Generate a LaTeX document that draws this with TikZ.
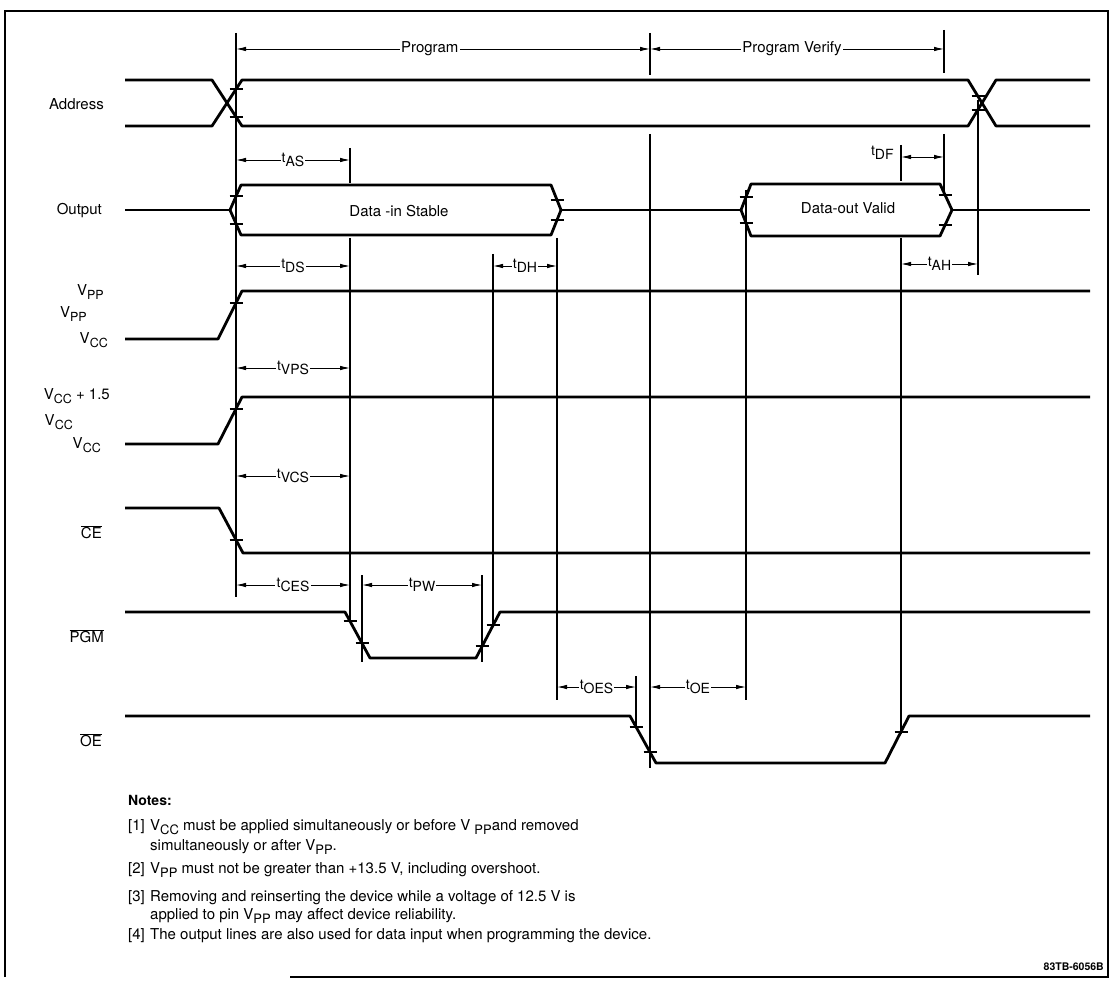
\documentclass[tikz,border=0pt]{standalone}
\usepackage{fontspec}
\setmainfont{TeX Gyre Heros}
\usetikzlibrary{arrows.meta}
\newcommand{\lsub}[1]{\raisebox{-0.45ex}{\fontsize{12.5}{12.5}\selectfont #1}}
\newcommand{\nsub}[1]{\raisebox{-0.45ex}{\fontsize{13}{13}\selectfont #1}}
\newcommand{\tlab}[1]{\raisebox{0.15ex}{t}\raisebox{-0.45ex}{#1}}
\newcommand{\ovl}[1]{$\overline{\mbox{#1}}$}
\newcommand{\tk}[2]{\draw[tickmark] (#1-6.5,#2) -- (#1+6.5,#2);}
\begin{document}
\begin{tikzpicture}[x=1pt,y=-1pt,
  sig/.style={line width=2.8pt, line join=round},
  vline/.style={line width=1.2pt},
  tickmark/.style={line width=1.1pt},
  frameline/.style={line width=1.6pt},
  dim/.style={line width=0.9pt, {Latex[length=10pt,width=4.5pt]}-{Latex[length=10pt,width=4.5pt]}},
  dlab/.style={font=\fontsize{14}{14}\selectfont, fill=white, inner sep=1.2pt},
  lab/.style={font=\fontsize{15}{15}\selectfont, anchor=east, inner sep=0pt},
  note/.style={font=\fontsize{15}{15}\selectfont, anchor=west, inner sep=0pt}]
\useasboundingbox (0,0) rectangle (1115,981);
\fill[white] (0,0) rectangle (1115,981);
% frame
\draw[frameline] (5,977) -- (5,11) -- (1108,11) -- (1108,977) -- (290,977);
% ---- signals ----
% Address
\draw[sig] (125,80) -- (212,80) -- (242,126) -- (968,126) -- (996,80) -- (1090,80);
\draw[sig] (125,126) -- (212,126) -- (242,80) -- (968,80) -- (996,126) -- (1090,126);
\tk{236}{89} \tk{236}{117} \tk{978}{96} \tk{978}{110}
% Output
\draw[sig] (125,210) -- (230,210);
\draw[sig] (230,210) -- (241,185) -- (551,185) -- (561,210) -- (551,235) -- (241,235) -- cycle;
\draw[sig] (561,210) -- (741,210);
\draw[sig] (741,210) -- (751,184) -- (940,184) -- (952,210) -- (940,236) -- (751,236) -- cycle;
\draw[sig] (952,210) -- (1090,210);
\tk{236}{196} \tk{236}{224} \tk{557}{200} \tk{557}{220}
\tk{746}{197} \tk{746}{223} \tk{945}{195} \tk{945}{225}
% VPP
\draw[sig] (125,339) -- (218,339) -- (242,291) -- (1090,291);
\tk{236}{303}
% VCC
\draw[sig] (125,444) -- (218,444) -- (242,397) -- (1090,397);
\tk{236}{409}
% CE
\draw[sig] (125,508) -- (219,508) -- (243,553) -- (1090,553);
\tk{236}{540}
% PGM
\draw[sig] (125,612) -- (345,612) -- (370,658) -- (476,658) -- (500,612) -- (1090,612);
\tk{350}{621} \tk{362}{643} \tk{482}{646} \tk{493}{625}
% OE
\draw[sig] (125,716) -- (630,716) -- (656,763) -- (885,763) -- (909,716) -- (1090,716);
\tk{636}{727} \tk{650}{752} \tk{901}{732}
% ---- vertical timing lines ----
\draw[vline] (236,33) -- (236,597);
\draw[vline] (350,148) -- (350,183);
\draw[vline] (350,238) -- (350,621);
\draw[vline] (362,575) -- (362,662);
\draw[vline] (482,575) -- (482,662);
\draw[vline] (493,254) -- (493,625);
\draw[vline] (557,238) -- (557,700);
\draw[vline] (650,33) -- (650,75);
\draw[vline] (650,134) -- (650,768);
\draw[vline] (746,190) -- (746,700);
\draw[vline] (901,145) -- (901,181);
\draw[vline] (901,238) -- (901,734);
\draw[vline] (978,100) -- (978,275);
\draw[vline] (944,30) -- (944,73);
\draw[vline] (944,134) -- (944,192);
\draw[vline] (636,676) -- (636,727);
% ---- dimension arrows ----
\draw[dim] (236,49) -- node[dlab, pos=0.468, font=\fontsize{15}{15}\selectfont] (prog) {Program} (650,49);
\draw[dim] (650,49) -- node[dlab, pos=0.483, font=\fontsize{15}{15}\selectfont] (pver) {Program Verify} (944,49);
\draw[dim] (236,160) -- node[dlab] (tas) {\tlab{AS}} (350,160);
\draw[dim] (901,157) -- (944,157);
\node[dlab, anchor=east] (tdf) at (895,153) {\tlab{DF}};
\draw[dim] (236,266) -- node[dlab] (tds) {\tlab{DS}} (350,266);
\draw[dim] (493,266) -- node[dlab] (tdh) {\tlab{DH}} (557,266);
\draw[dim] (901,264) -- node[dlab] (tah) {\tlab{AH}} (978,264);
\draw[dim] (236,368) -- node[dlab] (tvps) {\tlab{VPS}} (350,368);
\draw[dim] (236,476) -- node[dlab] (tvcs) {\tlab{VCS}} (350,476);
\draw[dim] (236,585) -- node[dlab] (tces) {\tlab{CES}} (350,585);
\draw[dim] (362,585) -- node[dlab] (tpw) {\tlab{PW}} (482,585);
\draw[dim] (557,687) -- node[dlab] (toes) {\tlab{OES}} (636,687);
\draw[dim] (650,687) -- node[dlab] (toe) {\tlab{OE}} (746,687);
% ---- box texts ----
\node[font=\fontsize{15}{15}\selectfont] (din) at (399,211) {Data -in Stable};
\node[font=\fontsize{15}{15}\selectfont] (dout) at (848,208) {Data-out Valid};
% ---- signal labels ----
\node[lab] (laddr) at (104,104) {Address};
\node[lab] (lout) at (102,211) {Output};
\node[lab] (lvpp1) at (104,292) {V\lsub{PP}};
\node[lab] (lvpp2) at (87,314) {V\lsub{PP}};
\node[lab] (lvcc1) at (108,340) {V\lsub{CC}};
\node[lab] (lvcc2) at (110,396) {V\lsub{CC} + 1.5};
\node[lab] (lvcc3) at (73,422) {V\lsub{CC}};
\node[lab] (lvcc4) at (101,445) {V\lsub{CC}};
\node[lab] (lce) at (102,532) {\ovl{CE}};
\node[lab] (lpgm) at (104,636) {\ovl{PGM}};
\node[lab] (loe) at (102,740) {\ovl{OE}};
% ---- notes ----
\node[note, font=\bfseries\fontsize{14}{14}\selectfont] (notes) at (128,800) {Notes:};
\node[note] (n1) at (128,827) {\makebox[22pt][l]{[1]}V\nsub{CC} must be applied simultaneously or before V \nsub{PP}and removed};
\node[note] (n1b) at (150,847) {simultaneously or after V\nsub{PP}.};
\node[note] (n2) at (128,870) {\makebox[22pt][l]{[2]}V\nsub{PP} must not be greater than +13.5 V, including overshoot.};
\node[note] (n3) at (128,898) {\makebox[22pt][l]{[3]}Removing and reinserting the device while a voltage of 12.5 V is};
\node[note] (n3b) at (150,916) {applied to pin V\nsub{PP} may affect device reliability.};
\node[note] (n4) at (128,936) {\makebox[22pt][l]{[4]}The output lines are also used for data input when programming the device.};
\node[anchor=east, inner sep=0pt, font=\bfseries\fontsize{10.5}{10.5}\selectfont] (code) at (1104,967) {83TB-6056B};
\end{tikzpicture}
\end{document}
